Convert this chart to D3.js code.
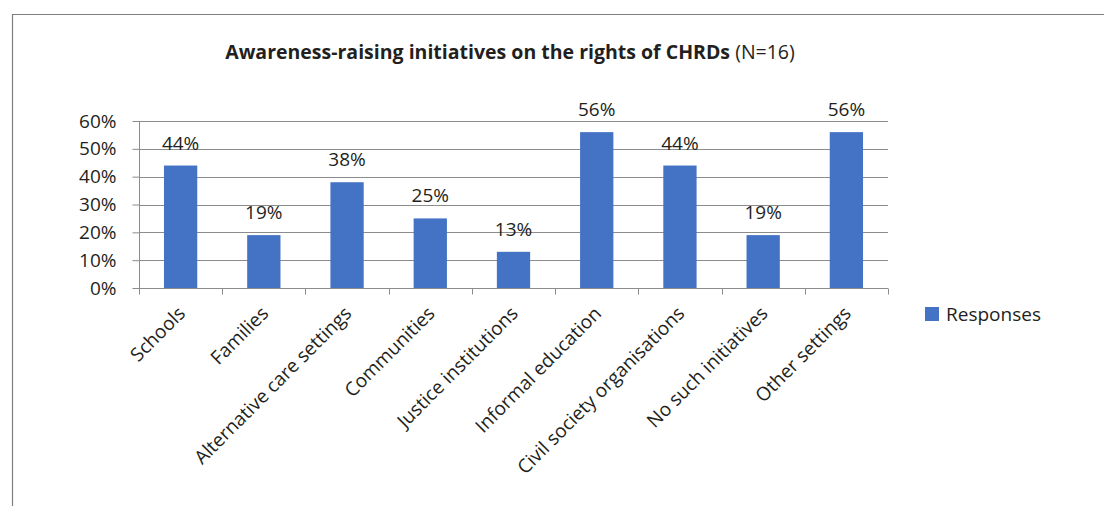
<!DOCTYPE html>
<html>
<head>
<meta charset="utf-8">
<script src="https://cdn.jsdelivr.net/npm/d3@7"></script>
<style>
  html, body { margin: 0; padding: 0; background: #fff; }
  svg { display: block; }
  text { font-family: "Open Sans", "Noto Sans", sans-serif; fill: #231f20; }
</style>
</head>
<body>
<svg id="chart" width="1104" height="506"></svg>
<script>
// Share of respondents (N=16) reporting awareness-raising in each setting
const categories = [
  "Schools", "Families", "Alternative care settings", "Communities",
  "Justice institutions", "Informal education", "Civil society organisations",
  "No such initiatives", "Other settings"
];
const responses = [44, 19, 38, 25, 13, 56, 44, 19, 56];
const yTicks = [0, 10, 20, 30, 40, 50, 60];
const seriesName = "Responses";

const svg = d3.select("#chart");
const W = 1104, H = 506;
const plot = { left: 139, right: 888, top: 121, bottom: 288 };
const barColor = "#4472c4";
const gridColor = "#8c8c8c";
const fontSize = "19px";

// Outer frame
svg.append("path")
  .attr("d", `M12.5,${H} V14.5 H${W}`)
  .attr("fill", "none")
  .attr("stroke", "#7f7f7f")
  .attr("stroke-width", 1.2);

// Title
const title = svg.append("text")
  .attr("x", 510).attr("y", 59)
  .attr("text-anchor", "middle")
  .style("font-size", "19.5px");
title.append("tspan").attr("font-weight", "bold")
  .text("Awareness-raising initiatives on the rights of CHRDs");
title.append("tspan").attr("font-weight", "normal").text(" (N=16)");

const x = d3.scaleBand()
  .domain(categories)
  .range([plot.left, plot.right])
  .paddingInner(0.6)
  .paddingOuter(0.3);

const y = d3.scaleLinear()
  .domain([0, 60])
  .range([plot.bottom, plot.top]);

// Horizontal gridlines
svg.append("g")
  .selectAll("line")
  .data(yTicks.filter(d => d > 0))
  .join("line")
  .attr("x1", plot.left).attr("x2", plot.right)
  .attr("y1", d => Math.round(y(d)) + 0.5)
  .attr("y2", d => Math.round(y(d)) + 0.5)
  .attr("stroke", gridColor)
  .attr("stroke-width", 1);

// Y axis
const yAxis = svg.append("g")
  .attr("transform", `translate(${plot.left + 0.5},0)`)
  .call(d3.axisLeft(y).tickValues(yTicks).tickSize(7).tickPadding(16)
    .tickFormat(d => d + "%"));
yAxis.selectAll("line, path").attr("stroke", gridColor);
yAxis.select(".domain").attr("d", `M0,${plot.top}V${plot.bottom}`);
yAxis.selectAll("text")
  .style("font-size", fontSize)
  .style("font-family", "'Open Sans', 'Noto Sans', sans-serif")
  .attr("fill", "#231f20");

// Bars
svg.append("g")
  .selectAll("rect")
  .data(responses)
  .join("rect")
  .attr("x", (d, i) => x(categories[i]))
  .attr("width", x.bandwidth())
  .attr("y", d => y(d))
  .attr("height", d => y(0) - y(d))
  .attr("fill", barColor);

// X axis with category boundary ticks
const xAxis = svg.append("g")
  .attr("transform", `translate(0,${Math.round(plot.bottom) + 0.5})`);
xAxis.append("line")
  .attr("x1", plot.left).attr("x2", plot.right)
  .attr("stroke", gridColor);
const boundaries = d3.range(categories.length + 1)
  .map(i => plot.left + (plot.right - plot.left) * i / categories.length);
xAxis.selectAll("line.tick")
  .data(boundaries)
  .join("line")
  .attr("class", "tick")
  .attr("x1", d => Math.round(d) + 0.5).attr("x2", d => Math.round(d) + 0.5)
  .attr("y1", 0).attr("y2", 6)
  .attr("stroke", gridColor);

// Rotated category labels
svg.append("g")
  .selectAll("text")
  .data(categories)
  .join("text")
  .attr("transform", d => `translate(${x(d) + x.bandwidth() / 2 + 1},${plot.bottom + 22}) rotate(-45)`)
  .attr("text-anchor", "end")
  .attr("dy", "0.35em")
  .style("font-size", fontSize)
  .text(d => d);

// Value labels
svg.append("g")
  .selectAll("text")
  .data(responses)
  .join("text")
  .attr("x", (d, i) => x(categories[i]) + x.bandwidth() / 2)
  .attr("y", d => y(d) - 16)
  .attr("text-anchor", "middle")
  .style("font-size", fontSize)
  .text(d => d + "%");

// Legend
const legend = svg.append("g").attr("transform", "translate(925,307)");
legend.append("rect").attr("width", 14).attr("height", 14).attr("fill", barColor);
legend.append("text")
  .attr("x", 21).attr("y", 7).attr("dy", "0.35em")
  .style("font-size", fontSize)
  .text(seriesName);
</script>
</body>
</html>
